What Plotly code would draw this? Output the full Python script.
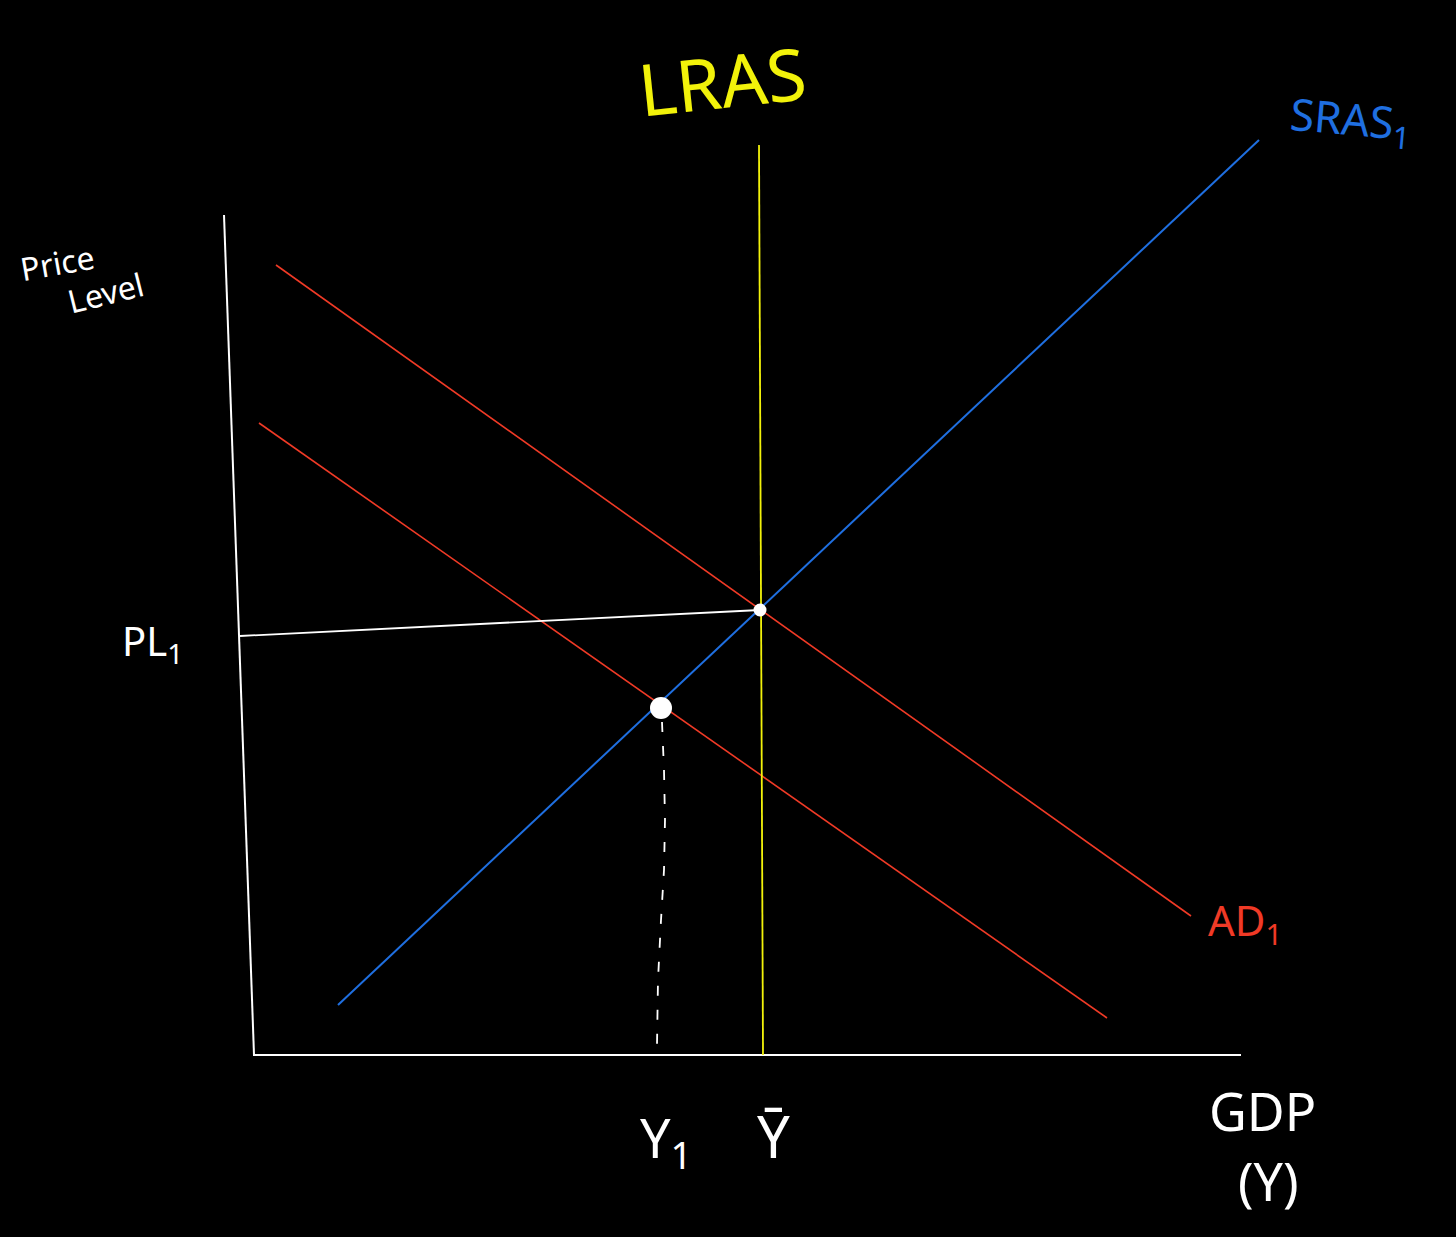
import plotly.graph_objects as go

# Curve endpoints (drawing units: x = GDP, y = price level, picture y grows downward)
y_axis_x = [224, 254]
y_axis_y = [215, 1055]
x_axis_x = [253, 1241]
x_axis_y = [1055, 1055]
lras_x = [759, 763]
lras_y = [145, 1055]
sras_x = [338, 1259]
sras_y = [1005, 140]
ad_upper_x = [276, 1191]
ad_upper_y = [265, 916]
ad_lower_x = [259, 1107]
ad_lower_y = [423, 1018]
pl_x = [240, 760]
pl_y = [636, 610]
drop_x = [662, 664, 665, 664, 661, 658, 657]
drop_y = [722, 770, 820, 870, 920, 980, 1045]
eq_x = [760]
eq_y = [610]
sr_x = [661]
sr_y = [708]

fig = go.Figure()

def seg(x, y, color, width=1.6, dash="solid"):
    fig.add_trace(go.Scatter(x=x, y=y, mode="lines",
                             line=dict(color=color, width=width, dash=dash),
                             hoverinfo="skip", showlegend=False))

seg(y_axis_x, y_axis_y, "#ffffff", 2)
seg(x_axis_x, x_axis_y, "#ffffff", 2)
seg(ad_upper_x, ad_upper_y, "#f03a26", 1.6)
seg(ad_lower_x, ad_lower_y, "#f03a26", 1.6)
seg(pl_x, pl_y, "#ffffff", 1.8)
seg(lras_x, lras_y, "#f2f20a", 1.8)
seg(sras_x, sras_y, "#1f6fe0", 2)
seg(drop_x, drop_y, "#ffffff", 1.8, "10px,14px")

fig.add_trace(go.Scatter(x=eq_x, y=eq_y, mode="markers",
                         marker=dict(color="#ffffff", size=13),
                         hoverinfo="skip", showlegend=False))
fig.add_trace(go.Scatter(x=sr_x, y=sr_y, mode="markers",
                         marker=dict(color="#ffffff", size=22),
                         hoverinfo="skip", showlegend=False))

FONT = "Noto Sans"
def lab(x, y, text, color, size, angle=0):
    fig.add_annotation(x=x, y=y, text=text, showarrow=False, textangle=angle,
                       font=dict(family=FONT, size=size, color=color),
                       xanchor="center", yanchor="middle")

lab(722, 80, "LRAS", "#f2f20a", 72, -6)
lab(1350, 120, "SRAS<sub>1</sub>", "#1f6fe0", 44, 5)
lab(57, 262, "Price", "#ffffff", 32, -10)
lab(105, 292, "Level", "#ffffff", 32, -14)
lab(152, 642, "PL<sub>1</sub>", "#ffffff", 40)
lab(1245, 922, "AD<sub>1</sub>", "#f03a26", 42)
lab(666, 1140, "Y<sub>1</sub>", "#ffffff", 54)
lab(773, 1135, "Y&#772;", "#ffffff", 58)
lab(1262, 1110, "GDP", "#ffffff", 52)
lab(1268, 1180, "(Y)", "#ffffff", 52)

fig.update_layout(
    width=1456, height=1237,
    margin=dict(l=0, r=0, t=0, b=0),
    paper_bgcolor="#000000", plot_bgcolor="#000000",
    xaxis=dict(range=[0, 1456], visible=False, fixedrange=True),
    yaxis=dict(range=[1237, 0], visible=False, fixedrange=True),
)

fig.write_html("out.html",
               config={"displayModeBar": False},
               post_script="document.body.style.margin='0';document.body.style.background='#000';")
